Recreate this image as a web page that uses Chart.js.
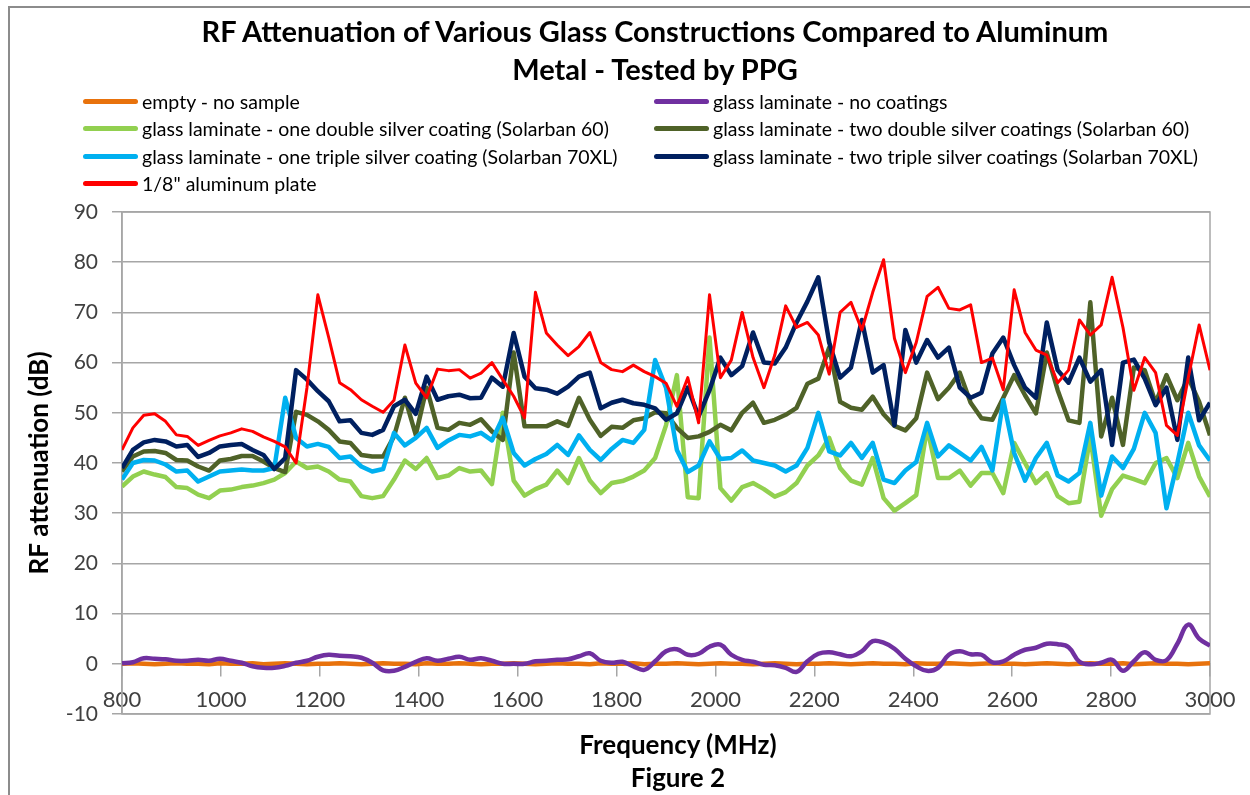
<!DOCTYPE html>
<html>
<head>
<meta charset="utf-8">
<script src="https://cdn.jsdelivr.net/npm/chart.js@4/dist/chart.umd.min.js"></script>
<style>
  body { margin: 0; background: #fff; font-family: Lato, "Open Sans", sans-serif; }
  #wrap { position: relative; width: 1250px; height: 795px; overflow: hidden; }
  #frame { position: absolute; left: 8px; top: 6px; width: 1260px; height: 800px;
           border-left: 2px solid #8c8c8c; border-top: 2px solid #8c8c8c; }
  #title { position: absolute; left: 0; top: 12px; width: 1310px; text-align: center;
           font-weight: bold; font-size: 29px; line-height: 38px; color: #000; }
  #legend { position: absolute; left: 83px; top: 88px; display: grid;
            grid-template-columns: 571px auto; grid-auto-rows: 27.3px; font-size: 19.5px; color: #000; }
  #legend div { display: flex; align-items: center; white-space: nowrap; }
  #legend span.sw { display: inline-block; width: 55px; height: 5px; border-radius: 3px; margin-right: 4px; }
  #xtitle { position: absolute; left: 0; top: 728px; width: 1356px; text-align: center;
            font-weight: bold; font-size: 26px; line-height: 33px; color: #000; }
  canvas { position: absolute; left: 0; top: 0; }
</style>
</head>
<body>
<div id="wrap">
  <div id="frame"></div>
  <canvas id="rfChart" width="1250" height="795"></canvas>
  <div id="title">RF Attenuation of Various Glass Constructions Compared to Aluminum<br>Metal - Tested by PPG</div>
  <div id="legend"></div>
  <div id="xtitle">Frequency (MHz)<br>Figure 2</div>
</div>
<script>
// frequency points (MHz)
var freqs = [
  800, 822, 844, 866, 888, 910, 932, 954, 976, 998,
  1020, 1042, 1064, 1086, 1108, 1130, 1152, 1174, 1196, 1218,
  1240, 1262, 1284, 1306, 1328, 1350, 1372, 1394, 1416, 1438,
  1460, 1482, 1504, 1526, 1548, 1570, 1592, 1614, 1636, 1658,
  1680, 1702, 1724, 1746, 1768, 1790, 1812, 1834, 1856, 1878,
  1900, 1922, 1944, 1966, 1988, 2010, 2032, 2054, 2076, 2098,
  2120, 2142, 2164, 2186, 2208, 2230, 2252, 2274, 2296, 2318,
  2340, 2362, 2384, 2406, 2428, 2450, 2472, 2494, 2516, 2538,
  2560, 2582, 2604, 2626, 2648, 2670, 2692, 2714, 2736, 2758,
  2780, 2802, 2824, 2846, 2868, 2890, 2912, 2934, 2956, 2978,
  3000
];

var emptySample = [
  0, 0.1, 0, -0.1, 0, 0.1, 0, 0, -0.1, 0.1,
  0, 0, 0.1, -0.1, 0, 0.1, 0, -0.1, 0, 0,
  0.1, 0, -0.1, 0, 0.1, 0, 0, -0.1, 0.1, 0,
  0, 0.1, 0, -0.1, 0, 0, 0.1, 0, -0.1, 0,
  0.1, 0, 0, -0.1, 0.1, 0, 0, 0.1, -0.1, 0,
  0, 0.1, 0, -0.1, 0, 0.1, 0, 0, -0.1, 0,
  0.1, 0, -0.1, 0, 0, 0.1, 0, -0.1, 0, 0.1,
  0, 0, -0.1, 0.1, 0, 0, 0.1, 0, -0.1, 0,
  0.1, 0, 0, -0.1, 0, 0.1, 0, -0.1, 0, 0.1,
  0, 0, 0.1, -0.1, 0, 0.1, 0, 0, -0.1, 0,
  0.1
];

var noCoating = [
  0.1, 0.3, 1.1, 1.0, 0.9, 0.6, 0.6, 0.8, 0.6, 1.0,
  0.6, 0.2, -0.5, -0.8, -0.8, -0.4, 0.2, 0.6, 1.4, 1.8,
  1.6, 1.5, 1.2, 0.2, -1.3, -1.4, -0.6, 0.4, 1.1, 0.6,
  1.0, 1.4, 0.8, 1.1, 0.6, 0.0, 0.0, 0.0, 0.5, 0.6,
  0.8, 0.9, 1.5, 2.1, 0.6, 0.2, 0.4, -0.5, -1.2, 0.5,
  2.5, 2.9, 1.8, 2.0, 3.4, 3.8, 1.8, 0.8, 0.4, -0.2,
  -0.3, -0.8, -1.6, 0.5, 2.0, 2.3, 1.9, 1.5, 2.5, 4.5,
  4.2, 3.0, 1.0, -0.5, -1.4, -0.8, 1.8, 2.5, 1.9, 1.8,
  0.3, 0.5, 1.8, 2.8, 3.2, 4.0, 3.9, 3.3, 0.4, -0.1,
  0.2, 0.8, -1.4, 0.5, 2.3, 0.8, 0.7, 4.0, 7.8, 5.0,
  3.6
];

var oneDouble = [
  35.3, 37.3, 38.3, 37.7, 37.2, 35.2, 35, 33.7, 33, 34.5,
  34.7, 35.2, 35.5, 36, 36.7, 38, 40.3, 39, 39.3, 38.3,
  36.7, 36.3, 33.4, 33, 33.4, 36.7, 40.5, 38.8, 41, 37,
  37.5, 39, 38.3, 38.5, 35.8, 50, 36.5, 33.5, 34.8, 35.7,
  38.5, 36, 41, 36.5, 34, 36, 36.4, 37.3, 38.5, 41,
  47.5, 57.5, 33.2, 33, 65, 35, 32.5, 35.2, 36, 34.8,
  33.3, 34.2, 36, 39.5, 41.5, 45, 39, 36.5, 35.7, 41,
  33, 30.5, 32, 33.6, 47, 37, 37, 38.5, 35.5, 38,
  38, 34, 44, 40, 36, 38, 33.4, 32, 32.3, 45.3,
  29.5, 34.8, 37.5, 36.8, 36, 40, 41, 37, 44, 37.3,
  33.3
];

var twoDouble = [
  38.3, 41.3, 42.3, 42.4, 42, 40.6, 40.5, 39.3, 38.5, 40.5,
  40.8, 41.4, 41.4, 40.3, 39, 38.2, 50.2, 49.6, 48.3, 46.6,
  44.3, 44, 41.6, 41.3, 41.3, 45.3, 53, 45.6, 55, 47,
  46.6, 48, 47.6, 48.7, 46.3, 44.6, 62, 47.3, 47.3, 47.3,
  48.3, 47.4, 53, 48.6, 45.4, 47.2, 47, 48.5, 48.9, 50.1,
  49.9, 47, 45, 45.3, 46.2, 47.6, 46.5, 50, 52, 48,
  48.6, 49.6, 51, 55.8, 56.8, 63, 52.2, 51, 50.6, 53.2,
  49.7, 47.4, 46.5, 48.9, 58, 52.7, 55, 58, 52, 48.9,
  48.6, 53, 57.5, 53.5, 49.9, 62, 54.5, 48.5, 48, 72,
  45.3, 53, 43.6, 59, 58.5, 52, 57.5, 52.5, 57, 52.2,
  45.5
];

var oneTriple = [
  36.7, 40, 40.6, 40.5, 39.7, 38.3, 38.5, 36.3, 37.3, 38.3,
  38.5, 38.7, 38.5, 38.5, 39, 53, 45, 43.3, 43.8, 43.2,
  41, 41.3, 39.3, 38.3, 38.8, 46, 43.5, 45, 47, 43,
  44.5, 45.6, 45.3, 46, 44.5, 49, 42, 39.5, 40.8, 41.8,
  43.6, 41.6, 45.5, 42.6, 40.6, 42.8, 44.6, 44, 46.6, 60.5,
  55, 42.6, 38.2, 39.5, 44.3, 40.8, 41, 42.5, 40.5, 40,
  39.5, 38.3, 39.5, 43, 50, 42.3, 41.5, 44, 41, 44,
  36.7, 36, 38.5, 40.2, 48, 41.3, 43.5, 42, 40.5, 43.2,
  38.5, 52.5, 42, 36.5, 41, 44, 37.5, 36.3, 38, 48,
  33.5, 41.3, 39, 42.8, 50, 46, 31, 40, 50, 43.5,
  40.5
];

var twoTriple = [
  39, 42.6, 44.1, 44.6, 44.3, 43.3, 43.6, 41.2, 42, 43.3,
  43.6, 43.8, 42.6, 41.6, 38.8, 41, 58.5, 56.6, 54.3, 52.3,
  48.3, 48.5, 46, 45.6, 46.6, 51.3, 52.6, 49.8, 57.2, 52.6,
  53.3, 53.6, 52.9, 53, 57, 55.2, 65.9, 57.2, 54.9, 54.6,
  53.8, 55.2, 57.2, 58, 50.9, 52, 52.6, 51.9, 51.6, 50.9,
  48.6, 49.9, 55, 49.3, 54.5, 61, 57.5, 59.3, 66, 60,
  59.8, 63, 68, 72.2, 77, 64, 57, 59, 68.5, 58,
  59.5, 47.5, 66.5, 60, 64.5, 61, 63, 55, 53, 54,
  61.8, 65, 59.5, 55, 53, 68, 58.5, 56, 61, 56.2,
  58.5, 43.6, 60, 60.6, 56.8, 51.5, 55, 44.6, 61, 48.5,
  52
];

var aluminum = [
  42.6, 47, 49.5, 49.8, 48.3, 45.6, 45.3, 43.5, 44.5, 45.4,
  46, 46.8, 46.3, 45.2, 44.3, 43.2, 40, 55, 73.5, 65,
  56, 54.6, 52.6, 51.3, 50.1, 52.5, 63.5, 55.9, 53, 58.7,
  58.4, 58.6, 56.9, 57.9, 60, 56.6, 53.3, 49, 74, 65.9,
  63.5, 61.4, 63.2, 66, 60, 58.6, 58.2, 59.5, 58.2, 57.2,
  55.9, 51.3, 57, 48, 73.5, 57, 60.5, 70, 61, 55,
  61.5, 71.3, 67, 68, 65.5, 57.7, 70, 72, 66.5, 74,
  80.5, 64.8, 58, 64, 73.2, 75, 70.8, 70.5, 71.5, 60,
  60.9, 54.6, 74.5, 66, 62.5, 61.5, 56, 58.5, 68.5, 65.5,
  67.5, 77, 67, 54.5, 61, 58, 47.5, 45.5, 57, 67.5,
  58.5
];

var seriesNames = [
  'empty - no sample',
  'glass laminate - no coatings',
  'glass laminate - one double silver coating (Solarban 60)',
  'glass laminate - two double silver coatings (Solarban 60)',
  'glass laminate - one triple silver coating (Solarban 70XL)',
  'glass laminate - two triple silver coatings (Solarban 70XL)',
  '1/8" aluminum plate'
];
var seriesData = [emptySample, noCoating, oneDouble, twoDouble, oneTriple, twoTriple, aluminum];
var seriesColors = ['#E8720C', '#7030A0', '#92D050', '#4F6228', '#00B0F0', '#002060', '#FF0000'];
var seriesWidths = [4.5, 4.5, 4.5, 4.5, 4.5, 4.5, 3];

var datasets = seriesNames.map(function (name, i) {
  return {
    label: name,
    data: seriesData[i],
    borderColor: seriesColors[i],
    backgroundColor: seriesColors[i],
    borderWidth: seriesWidths[i],
    pointRadius: 0,
    tension: i === 1 ? 0.4 : 0,
    borderJoinStyle: 'round',
    order: seriesNames.length - 1 - i   // later series drawn on top, like Excel
  };
});

// light frame round the plot area
var plotFrame = {
  id: 'plotFrame',
  beforeDatasetsDraw: function (chart) {
    var a = chart.chartArea, ctx = chart.ctx;
    ctx.save();
    ctx.strokeStyle = '#a6a6a6';
    ctx.lineWidth = 1.5;
    ctx.strokeRect(a.left, a.top, a.right - a.left, a.bottom - a.top);
    ctx.restore();
  }
};

Chart.defaults.font.family = 'Lato, "Open Sans", sans-serif';

var ctx = document.getElementById('rfChart').getContext('2d');
var rfChart = new Chart(ctx, {
  type: 'line',
  data: { labels: freqs, datasets: datasets },
  options: {
    responsive: false,
    animation: false,
    layout: { padding: { top: 212, right: 40, bottom: 81, left: 0 } },
    plugins: { legend: { display: false }, tooltip: { enabled: false } },
    scales: {
      x: {
        type: 'linear',
        min: 800,
        max: 3000,
        position: { y: 0 },
        afterFit: function (s) { s.height = 0; },
        ticks: { stepSize: 200, autoSkip: false, maxRotation: 0, color: '#404040',
                 font: { size: 22 }, padding: 11,
                 callback: function (v) { return String(v); } },
        grid: { drawOnChartArea: false, color: '#a6a6a6', lineWidth: 1.5, tickLength: 12 },
        border: { color: '#a6a6a6', width: 1.5 }
      },
      y: {
        min: -10,
        max: 90,
        afterFit: function (s) { s.width = 122; },
        ticks: { stepSize: 10, color: '#404040', font: { size: 21 }, padding: 14 },
        grid: { color: '#a6a6a6', lineWidth: 1.5, tickLength: 10 },
        border: { color: '#a6a6a6', width: 1.5 },
        title: { display: true, text: 'RF attenuation (dB)', color: '#000',
                 font: { size: 26, weight: 'bold' }, padding: { top: 24, bottom: 0 } }
      }
    }
  },
  plugins: [plotFrame]
});

// legend in two columns, built from the datasets
var legendBox = document.getElementById('legend');
rfChart.data.datasets.forEach(function (ds) {
  var item = document.createElement('div');
  var sw = document.createElement('span');
  sw.className = 'sw';
  sw.style.background = ds.borderColor;
  item.appendChild(sw);
  item.appendChild(document.createTextNode(ds.label));
  legendBox.appendChild(item);
});
</script>
</body>
</html>
